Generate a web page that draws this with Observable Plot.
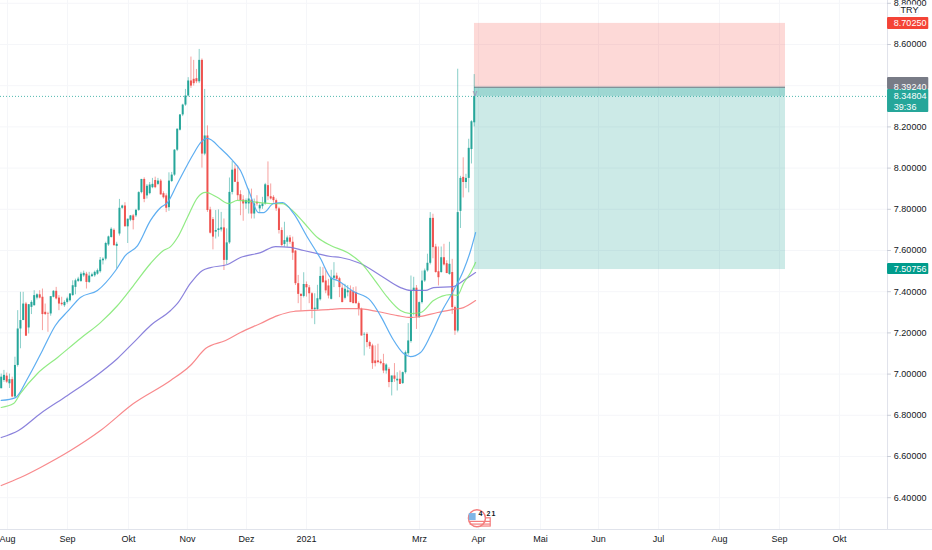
<!DOCTYPE html>
<html><head><meta charset="utf-8">
<script src="https://cdn.jsdelivr.net/npm/d3@7"></script>
<script src="https://cdn.jsdelivr.net/npm/@observablehq/plot@0.6"></script>
<style>html,body{margin:0;padding:0;background:#fff;overflow:hidden}svg{display:block}</style>
</head><body><div id="chart"></div>
<script>
const opens=[6.929,6.969,6.99,6.953,6.973,6.889,7.042,7.219,7.26,7.34,
7.224,7.324,7.332,7.369,7.385,7.373,7.3,7.292,7.292,7.373,
7.402,7.369,7.344,7.332,7.348,7.356,7.381,7.421,7.45,7.45,
7.477,7.485,7.445,7.473,7.477,7.485,7.497,7.55,7.558,7.627,
7.663,7.698,7.62,7.68,7.805,7.816,7.715,7.747,7.768,7.768,
7.795,7.881,7.945,7.865,7.876,7.905,7.94,7.921,7.937,7.876,
7.865,7.808,7.935,7.966,8.087,8.184,8.258,8.306,8.35,8.423,
8.431,8.434,8.419,8.523,8.068,8.156,7.797,7.75,7.689,7.697,
7.7,7.71,7.552,7.637,7.882,7.995,7.931,7.871,7.845,7.826,
7.826,7.845,7.777,7.834,7.802,7.813,7.826,7.915,7.861,7.858,
7.842,7.802,7.697,7.629,7.64,7.661,7.64,7.597,7.439,7.387,
7.377,7.435,7.419,7.39,7.313,7.313,7.361,7.476,7.452,7.428,
7.363,7.465,7.476,7.463,7.417,7.368,7.395,7.404,7.4,7.395,
7.342,7.315,7.19,7.193,7.153,7.137,7.064,7.064,7.059,7.051,
7.015,7.023,6.959,6.991,6.967,6.975,6.954,7.007,7.099,7.158,
7.404,7.417,7.274,7.347,7.452,7.501,7.538,7.756,7.617,7.497,
7.493,7.565,7.536,7.484,7.493,7.323,7.209,7.79,7.955,7.93,
7.95,8.09,8.22];
const highs=[7.0,7.018,7.005,7.0,6.985,7.082,7.308,7.397,7.397,7.348,
7.337,7.356,7.405,7.39,7.405,7.413,7.34,7.3,7.376,7.405,
7.421,7.381,7.373,7.356,7.373,7.39,7.453,7.461,7.47,7.494,
7.5,7.494,7.494,7.49,7.5,7.51,7.566,7.565,7.64,7.67,
7.71,7.705,7.64,7.848,7.82,7.832,7.752,7.77,7.775,7.8,
7.885,7.945,7.953,7.92,7.93,7.95,7.956,7.95,7.945,7.885,
7.875,7.977,7.979,8.09,8.189,8.26,8.31,8.382,8.439,8.539,
8.523,8.479,8.576,8.53,8.382,8.205,7.81,7.76,7.794,7.797,
7.785,7.753,7.705,7.952,8.032,8.015,8.01,7.89,7.866,7.85,
7.898,7.898,7.85,7.866,7.826,7.858,7.926,8.03,7.923,7.866,
7.85,7.81,7.71,7.737,7.67,7.673,7.665,7.6,7.479,7.39,
7.492,7.447,7.43,7.395,7.39,7.431,7.519,7.517,7.501,7.46,
7.504,7.541,7.49,7.47,7.436,7.436,7.43,7.428,7.42,7.423,
7.35,7.32,7.201,7.201,7.16,7.145,7.137,7.145,7.07,7.096,
7.05,7.031,6.99,7.051,7.007,7.015,7.01,7.112,7.245,7.476,
7.47,7.43,7.35,7.5,7.51,7.582,7.784,7.776,7.63,7.617,
7.617,7.63,7.55,7.64,7.557,7.33,8.48,7.96,8.05,7.97,
8.14,8.23,8.454];
const lows=[6.929,6.96,6.955,6.93,6.885,6.885,7.034,7.123,7.26,7.184,
7.195,7.289,7.33,7.36,7.365,7.211,7.285,7.203,7.281,7.37,
7.36,7.308,7.33,7.324,7.34,7.35,7.378,7.385,7.445,7.445,
7.47,7.413,7.44,7.47,7.47,7.48,7.49,7.53,7.55,7.62,
7.66,7.623,7.51,7.67,7.8,7.715,7.634,7.74,7.70,7.76,
7.79,7.875,7.832,7.85,7.87,7.9,7.9,7.915,7.869,7.85,
7.784,7.79,7.93,7.96,8.08,8.18,8.25,8.3,8.345,8.387,
8.398,8.41,8.41,8.0,8.06,7.785,7.68,7.603,7.656,7.665,
7.69,7.503,7.532,7.63,7.87,7.93,7.842,7.769,7.742,7.8,
7.777,7.753,7.753,7.815,7.785,7.8,7.82,7.842,7.845,7.83,
7.79,7.68,7.62,7.616,7.616,7.63,7.552,7.43,7.342,7.306,
7.37,7.374,7.342,7.269,7.24,7.31,7.355,7.44,7.39,7.365,
7.36,7.42,7.455,7.371,7.347,7.36,7.375,7.347,7.342,7.339,
7.282,7.185,7.088,7.128,7.12,7.023,7.035,7.05,7.045,7.002,
7.0,6.934,6.894,6.96,6.918,6.95,6.95,7.0,7.09,7.15,
7.282,7.217,7.27,7.34,7.445,7.495,7.53,7.56,7.49,7.428,
7.49,7.525,7.488,7.48,7.29,7.188,7.2,7.707,7.855,7.9,
7.88,8.02,8.2];
const closes=[6.985,6.994,6.961,6.973,6.889,7.042,7.219,7.26,7.34,7.184,
7.337,7.348,7.381,7.385,7.369,7.289,7.289,7.29,7.376,7.402,
7.365,7.34,7.337,7.348,7.365,7.389,7.429,7.453,7.461,7.485,
7.489,7.445,7.476,7.482,7.494,7.502,7.553,7.558,7.634,7.666,
7.703,7.623,7.63,7.805,7.816,7.715,7.752,7.768,7.745,7.795,
7.881,7.945,7.848,7.912,7.918,7.921,7.905,7.937,7.87,7.856,
7.805,7.937,7.966,8.087,8.189,8.258,8.306,8.35,8.423,8.398,
8.41,8.419,8.523,8.068,8.156,7.794,7.684,7.665,7.697,7.705,
7.71,7.552,7.637,7.882,7.99,7.931,7.866,7.842,7.826,7.842,
7.85,7.777,7.826,7.826,7.818,7.826,7.919,7.861,7.85,7.842,
7.802,7.697,7.624,7.648,7.661,7.64,7.587,7.439,7.387,7.377,
7.435,7.419,7.39,7.313,7.32,7.366,7.474,7.444,7.404,7.379,
7.465,7.476,7.46,7.42,7.347,7.412,7.404,7.347,7.342,7.342,
7.315,7.185,7.193,7.153,7.133,7.051,7.051,7.056,7.051,7.015,
7.044,6.959,6.991,6.975,6.975,6.95,7.007,7.104,7.161,7.404,
7.417,7.277,7.347,7.452,7.501,7.538,7.756,7.614,7.493,7.468,
7.565,7.53,7.488,7.533,7.323,7.209,7.784,7.95,7.93,7.95,
8.096,8.225,8.348];

const blueIdx=[0,5.2,9.6,15,19.7,24.5,28.8,35,41.6,45.2,49.6,54.3,58,60.5,64.1,70,72.5,75,79.8,84.1,87,90,93.6,95.4,99,102.3,106.3,111.4,116.1,119.8,122.3,128.1,134.3,137.9,142.3,146.3,148.8,152.5,156.1,159.8,164.5,168.1,170.7,172.5];
const bluePrice=[6.872,6.886,6.979,7.115,7.236,7.309,7.372,7.406,7.503,7.576,7.624,7.746,7.809,7.833,7.925,8.071,8.124,8.144,8.095,8.037,7.988,7.891,7.784,7.784,7.828,7.833,7.78,7.663,7.561,7.469,7.454,7.401,7.357,7.284,7.173,7.1,7.085,7.105,7.187,7.294,7.406,7.503,7.6,7.687];
const greenIdx=[0,4.5,7,13.2,20.5,28.8,36.1,42.3,48.1,54.3,59,61.6,64.1,67.7,71.4,74.3,78.7,82.7,85.9,90.7,98,102.3,105.9,110,115,119.8,125.9,130.7,135.4,140.5,145.2,148.8,152.5,157.2,163.4,165.9,168.1,170.7,172.5];
const greenPrice=[6.838,6.857,6.906,7.003,7.081,7.173,7.25,7.333,7.43,7.537,7.6,7.619,7.663,7.76,7.857,7.882,7.857,7.828,7.843,7.838,7.828,7.828,7.794,7.736,7.663,7.624,7.59,7.542,7.464,7.372,7.309,7.294,7.299,7.357,7.386,7.382,7.44,7.493,7.542];
const purpleIdx=[0,6.3,14.3,24.1,36.1,42.3,48.1,54.3,61.6,64.1,68.8,73.2,76.1,82.3,87,94.3,99.8,105.2,110,115,119.8,123.4,130.7,137.9,145.2,148.8,154.3,157.2,164.5,168.1,172.5];
const purplePrice=[6.692,6.726,6.809,6.896,7.008,7.076,7.153,7.236,7.309,7.343,7.44,7.503,7.517,7.532,7.566,7.59,7.619,7.615,7.6,7.585,7.571,7.566,7.537,7.479,7.42,7.406,7.406,7.42,7.425,7.454,7.493];
const redIdx=[0,7,14.3,25.2,36.1,48.1,61.6,68.8,74.3,81.6,87,94.3,100.5,106.3,112.5,119.8,123.4,129.6,136.8,144.1,148.8,152.5,158.7,164.5,168.1,172.5];
const redPrice=[6.459,6.498,6.547,6.629,6.726,6.857,6.969,7.042,7.124,7.163,7.202,7.246,7.284,7.304,7.309,7.314,7.318,7.318,7.304,7.284,7.275,7.28,7.299,7.314,7.323,7.357];

const priceTicks=[8.8,8.6,8.2,8.0,7.8,7.6,7.4,7.2,7.0,6.8,6.6,6.4];
const gridPrices=[8.8,8.6,8.4,8.2,8.0,7.8,7.6,7.4,7.2,7.0,6.8,6.6,6.4];
const timeTickIdx=[2.3,24.1,46.3,67.7,89.2,111,152.1,173.6,196.1,217.2,239,261.2,283,304.8];
const timeTickLabels=["Aug","Sep","Okt","Nov","Dez","2021","Mrz","Apr","Mai","Jun","Jul","Aug","Sep","Okt"];

const stopPrice=8.7025, entryPrice=8.3924, lastPrice=8.34804, targetPrice=7.50756;
const posStart=172.1, posEnd=285.2;

const axisIdx=322.3, endIdx=338.65, tagEnd=337.3, labelIdx=324.6;
const bottomPrice=6.2456, timeLabelPrice=6.2;

const candles=d3.range(opens.length).map(i=>({i,o:opens[i],h:highs[i],l:lows[i],c:closes[i],up:closes[i]>=opens[i]}));
const zip=(xs,ys)=>xs.map((x,k)=>({x,y:ys[k]}));
const UP="#26a69a",DN="#ef5350";
const FONT="'Liberation Sans',Arial,sans-serif";
const txt=(rows,o)=>Plot.text(rows,{x:"x",y:"y",text:"t",fontSize:9,fontFamily:FONT,lineAnchor:"middle",...o});
const ma=(xs,ys,color,w,op)=>Plot.line(zip(xs,ys),{x:"x",y:"y",stroke:color,strokeWidth:w,strokeOpacity:op,curve:"monotone-x"});
const tag=(y1,y2,fill)=>Plot.rect([{}],{x1:()=>axisIdx,x2:()=>tagEnd,y1:()=>y1,y2:()=>y2,fill,rx:1});
const box=(y1,y2,fill,op)=>Plot.rect([{}],{x1:()=>posStart,x2:()=>posEnd,y1:()=>y1,y2:()=>y2,fill,fillOpacity:op});

const chart=Plot.plot({
  width:932,height:550,marginTop:0,marginRight:0,marginBottom:0,marginLeft:0,
  style:{background:"#fff",overflow:"hidden"},
  x:{domain:[-0.2545,endIdx],range:[0,932],axis:null},
  y:{domain:[6.1437,8.8136],range:[550,0],axis:null},
  marks:[
    Plot.ruleY(gridPrices,{x1:()=>-0.2545,x2:()=>axisIdx,y:d=>d,stroke:"#f5f6f9",strokeWidth:1}),
    Plot.ruleX(timeTickIdx,{x:d=>d,y1:()=>bottomPrice,y2:()=>8.8136,stroke:"#f5f6f9",strokeWidth:1}),
    box(stopPrice,entryPrice,"#f44336",0.2),
    box(lastPrice,targetPrice,"#009688",0.2),
    box(entryPrice,lastPrice,"#009688",0.38),
    Plot.ruleY([entryPrice],{x1:()=>posStart,x2:()=>posEnd,y:d=>d,stroke:"#787b86",strokeWidth:1.2}),
    Plot.ruleY([lastPrice],{x1:()=>-0.2545,x2:()=>axisIdx,y:d=>d,stroke:UP,strokeWidth:0.8,strokeDasharray:"1,2"}),
    Plot.ruleX(candles,{x:"i",y1:"l",y2:"h",stroke:d=>d.up?UP:DN,strokeOpacity:0.55,strokeWidth:1}),
    Plot.ruleX(candles,{x:"i",y1:"o",y2:"c",stroke:d=>d.up?UP:DN,strokeWidth:2}),
    ma(redIdx,redPrice,"#f77c80",1.2,0.9),
    ma(purpleIdx,purplePrice,"#7e74d8",1.2,0.9),
    ma(greenIdx,greenPrice,"#7ee76f",1.2,0.85),
    ma(blueIdx,bluePrice,"#55aaf0",1.2,0.95),
    Plot.text([{x:172.3,y:8.362}],{x:"x",y:"y",text:()=>"v",fontSize:9,fill:"#9a94b8",fontFamily:FONT,lineAnchor:"middle"}),
    Plot.ruleX([axisIdx],{x:d=>d,y1:()=>bottomPrice,y2:()=>8.8136,stroke:"#e0e3eb",strokeWidth:1}),
    Plot.ruleY([bottomPrice],{x1:()=>-0.2545,x2:()=>endIdx,y:d=>d,stroke:"#e0e3eb",strokeWidth:1}),
    Plot.ruleY(priceTicks,{x1:()=>axisIdx,x2:()=>axisIdx+1.4,y:d=>d,stroke:"#c8ccd6",strokeWidth:1}),
    txt(priceTicks.map(p=>({x:labelIdx,y:p,t:p.toFixed(5)})),{textAnchor:"start",fill:"#131722"}),
    txt(timeTickIdx.map((x,k)=>({x,y:timeLabelPrice,t:timeTickLabels[k]})),{fill:"#131722",fontWeight:d=>d.t==="2021"?"bold":"normal"}),
    Plot.rect([{}],{x1:()=>326.8,x2:()=>333.8,y1:()=>8.79,y2:()=>8.742,fill:"#fff",stroke:"#e8eaf0",strokeWidth:0.6,rx:2}),
    txt([{x:330.3,y:8.766,t:"TRY"}],{fill:"#131722"}),
    tag(8.731,8.673,"#f44336"),
    tag(8.44,8.382,"#787b86"),
    tag(8.382,8.27,"#26a69a"),
    tag(7.537,7.483,"#009c8c"),
    txt([{x:labelIdx,y:stopPrice,t:"8.70250"},{x:labelIdx,y:entryPrice,t:"8.39240"},{x:labelIdx,y:lastPrice,t:"8.34804"},{x:labelIdx,y:targetPrice,t:"7.50756"},{x:labelIdx,y:8.298,t:"39:36"}],{textAnchor:"start",fill:"#fff"}),
    Plot.rect([{}],{x1:()=>173,x2:()=>178,y1:()=>6.3,y2:()=>6.26,fill:"#fff",stroke:"#f47c7c",strokeWidth:1.2}),
    Plot.dot([{x:173,y:6.3}],{x:"x",y:"y",r:8.5,fill:"#fff",stroke:"#f47c7c",strokeWidth:1.5}),
    Plot.ruleY([6.285,6.272],{x1:()=>170.5,x2:()=>178,y:d=>d,stroke:"#f47c7c",strokeWidth:1.2}),
    Plot.rect([{}],{x1:()=>170.2,x2:()=>172.7,y1:()=>6.323,y2:()=>6.289,fill:"#7fb5e6"}),
    txt([{x:174.3,y:6.323,t:"4"},{x:177.2,y:6.323,t:"2"},{x:179,y:6.323,t:"1"}],{fontSize:7,fontWeight:"bold",fill:"#131722",textAnchor:"middle"})
  ]
});
document.getElementById("chart").appendChild(chart);
</script></body></html>
